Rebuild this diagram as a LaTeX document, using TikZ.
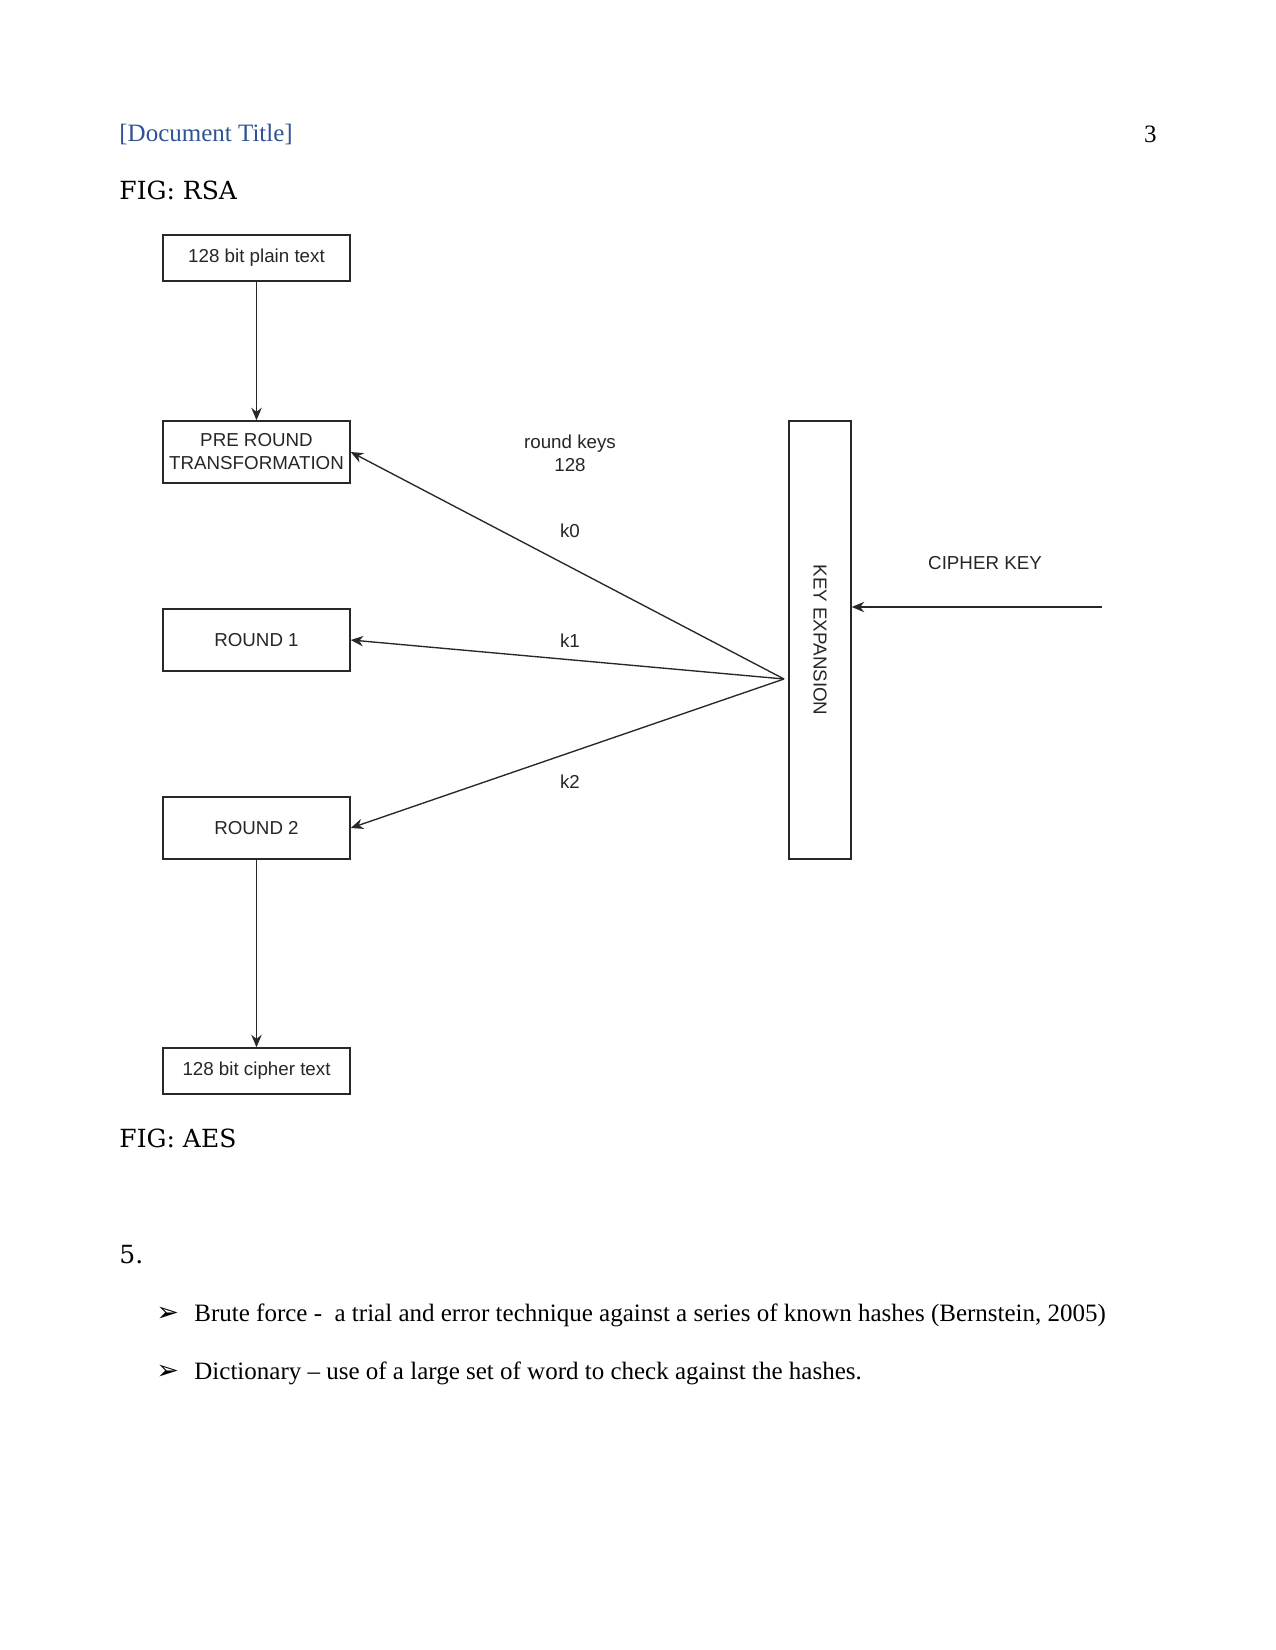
\documentclass[tikz,border=0pt]{standalone}
\usepackage{fontspec}
\setmainfont{Liberation Serif}
\newfontfamily\diafont{Liberation Sans}
\newfontfamily\figfont{DejaVu Serif}
\newfontfamily\symfont{DejaVu Sans}
\usetikzlibrary{arrows.meta}
\definecolor{titleblue}{RGB}{47,84,150}
\definecolor{boxline}{RGB}{40,40,40}
\begin{document}
\begin{tikzpicture}[x=0.48pt,y=-0.48pt,
  stepbox/.style={draw=boxline,line width=0.7pt,minimum width=187*0.48pt,inner sep=2pt,font=\diafont\fontsize{9}{11}\selectfont,align=center,text=black!85},
  lbl/.style={font=\diafont\fontsize{9}{11}\selectfont,align=center,text=black!85},
  body/.style={font=\fontsize{12}{14}\selectfont,anchor=west,inner sep=0pt},
  figtxt/.style={font=\figfont\fontsize{12}{14}\selectfont,anchor=west,inner sep=0pt},
  arr/.style={draw=boxline,line width=0.65pt,-{Stealth[length=6pt,width=5pt]}}]
\useasboundingbox[fill=white] (0,0) rectangle (1275,1650);
% header
\node[body,text=titleblue] (hdr) at (119,135) {[Document Title]};
\node[body,anchor=east] (pg) at (1157,134) {3};
\node[figtxt] (figrsa) at (119,190) {FIG: RSA};
% boxes
\node[stepbox,minimum height=46*0.48pt] (pt) at (256.5,258) {128 bit plain text};
\node[stepbox,minimum height=62*0.48pt] (pre) at (256.5,452) {PRE ROUND\\TRANSFORMATION};
\node[stepbox,minimum height=62*0.48pt] (r1) at (256.5,640) {ROUND 1};
\node[stepbox,minimum height=62*0.48pt] (r2) at (256.5,828) {ROUND 2};
\node[stepbox,minimum height=46*0.48pt] (ct) at (256.5,1071) {128 bit cipher text};
\node[draw=boxline,line width=0.7pt,minimum width=62*0.48pt,minimum height=438*0.48pt,inner sep=0pt] (kx) at (820,640) {};
\node[lbl,rotate=-90] (kxl) at (kx.center) {KEY EXPANSION};
% vertical arrows
\draw[arr] (pt) -- (pre);
\draw[arr] (r2) -- (ct);
% round key arrows
\coordinate (src) at (784,679);
\draw[arr] (src) -- (pre.east);
\draw[arr] (src) -- (r1.east);
\draw[arr] (src) -- (r2.east);
% labels
\node[lbl] (rk) at (570,453) {round keys\\128};
\node[lbl] (k0) at (570,531) {k0};
\node[lbl] (k1) at (570,641) {k1};
\node[lbl] (k2) at (570,782) {k2};
% cipher key
\coordinate (ck) at (1102,607);
\draw[arr] (ck) -- (kx.east |- ck);
\node[lbl] (ckl) at (985,563) {CIPHER KEY};
% lower text
\node[figtxt] (figaes) at (119,1138) {FIG: AES};
\node[figtxt] (five) at (119,1255) {5.};
\node[body,font=\symfont\fontsize{13}{15}\selectfont] (b1) at (156,1314) {➢};
\node[body] (t1) at (194,1315) {Brute force -\ \ a trial and error technique against a series of known hashes (Bernstein, 2005)};
\node[body,font=\symfont\fontsize{13}{15}\selectfont] (b2) at (156,1372) {➢};
\node[body] (t2) at (194,1373) {Dictionary -- use of a large set of word to check against the hashes.};
\end{tikzpicture}
\end{document}
